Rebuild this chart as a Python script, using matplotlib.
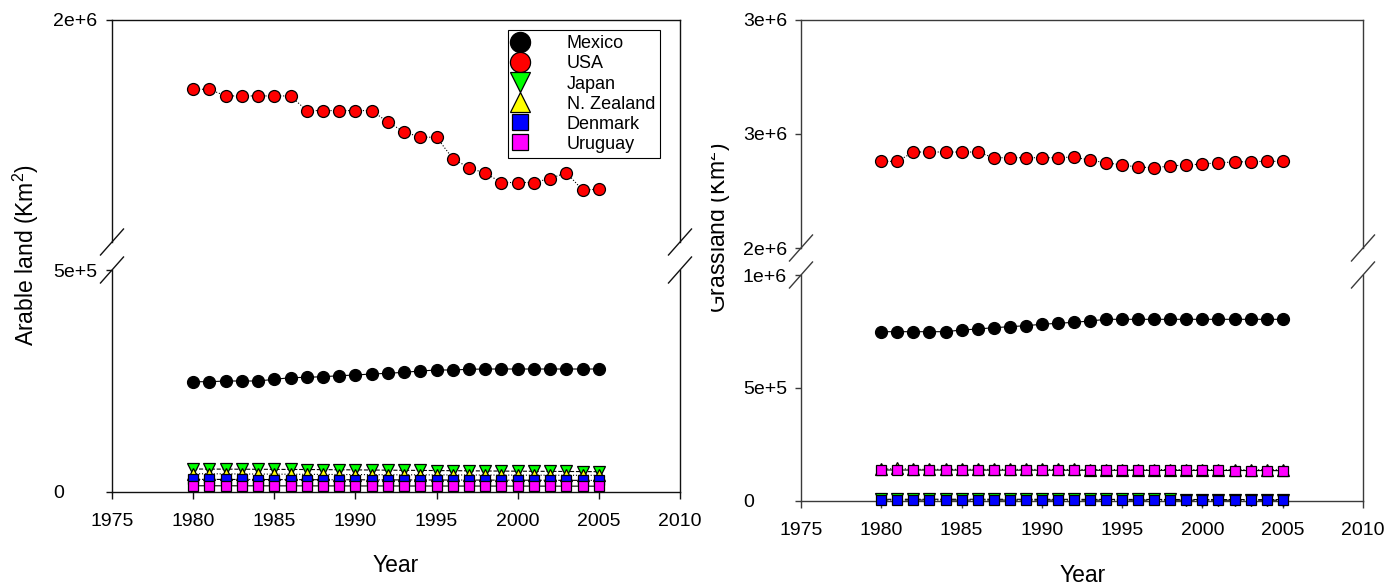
import matplotlib
matplotlib.use("Agg")
import matplotlib.pyplot as plt
from matplotlib.lines import Line2D
from matplotlib.transforms import Bbox, TransformedBbox

plt.rcParams["font.family"] = ["Liberation Sans", "DejaVu Sans"]
plt.rcParams["mathtext.fontset"] = "custom"
plt.rcParams["mathtext.rm"] = "Liberation Sans"
plt.rcParams["mathtext.it"] = "Liberation Sans:italic"
plt.rcParams["mathtext.default"] = "regular"

# ---------------- data ----------------
years = list(range(1980, 2006))
countries = ["Mexico", "USA", "Japan", "N. Zealand", "Denmark", "Uruguay"]

arable_mexico = [248400, 248400, 250000, 250000, 250000, 253800, 257400, 258300, 259700,
                 261900, 263500, 265800, 267300, 269600, 272500, 274800, 274800, 276400,
                 277000, 277000, 277000, 277000, 277000, 277000, 277000, 277000]
arable_usa = [1844000, 1844000, 1829000, 1829000, 1829000, 1829000, 1829000, 1796000,
              1796000, 1796000, 1796000, 1796000, 1770000, 1748000, 1736000, 1736000,
              1688000, 1667000, 1655000, 1634000, 1634000, 1634000, 1643000, 1656000,
              1617000, 1619000]
arable_japan = [51800, 51600, 51500, 51300, 51200, 51000, 50800, 50600, 50400, 50100,
                49800, 49500, 49200, 48900, 48600, 48300, 48000, 47700, 47400, 47100,
                46900, 46700, 46500, 46200, 46000, 45800]
arable_nzealand = [41000, 41000, 40800, 40600, 40400, 40200, 40000, 39800, 39600, 39400,
                   39200, 39000, 38800, 38700, 38600, 38500, 38400, 38300, 38200, 38100,
                   38000, 37900, 37800, 37700, 37600, 37500]
arable_denmark = [28400, 28400, 28300, 28200, 28100, 28000, 27900, 27800, 27700, 27600,
                  27500, 27400, 27300, 27200, 27100, 27000, 27000, 26900, 26800, 26700,
                  26600, 26500, 26400, 26300, 26200, 26100]
arable_uruguay = [14000, 14000, 14000, 13900, 13900, 13800, 13800, 13800, 13700, 13700,
                  13600, 13600, 13600, 13500, 13500, 13500, 13400, 13400, 13400, 13300,
                  13300, 13300, 13200, 13200, 13200, 13100]

grass_mexico = [748800, 748800, 748800, 748800, 748800, 756300, 760700, 766500, 770900,
                775400, 781600, 786000, 790400, 796200, 803700, 803700, 803700, 803700,
                803700, 803700, 803700, 803700, 803700, 803700, 803700, 803700]
grass_usa = [2380000, 2380000, 2421000, 2421000, 2421000, 2421000, 2421000, 2396000,
             2396000, 2396000, 2396000, 2396000, 2399000, 2385000, 2374000, 2364000,
             2355000, 2352000, 2360000, 2364000, 2368000, 2374000, 2377000, 2379000,
             2380000, 2380000]
grass_japan = [6200, 6300, 6400, 6500, 6500, 6500, 6400, 6400, 6300, 6300, 6200, 6100,
               6000, 5900, 5800, 5700, 5600, 5500, 5400, 5300, 5200, 5100, 5000, 5000,
               4900, 4900]
grass_nzealand = [139000, 143000, 139000, 139000, 139000, 139000, 139000, 138800, 138800,
                  138600, 138600, 138400, 138400, 138200, 138200, 138000, 138000, 137800,
                  137800, 137600, 137600, 137400, 137400, 137200, 137200, 137000]
grass_denmark = [3000, 3000, 3000, 2900, 2900, 2900, 2800, 2800, 2800, 2700, 2700, 2700,
                 2600, 2600, 2600, 2500, 2500, 2500, 2400, 2400, 2400, 2300, 2300, 2300,
                 2200, 2200]
grass_uruguay = [136000, 136000, 135800, 135800, 135600, 135600, 135400, 135400, 135200,
                 135200, 135000, 135000, 134800, 134800, 134600, 134600, 134400, 134400,
                 134200, 134200, 134000, 134000, 133800, 133600, 133400, 133200]

arable = [arable_mexico, arable_usa, arable_japan, arable_nzealand, arable_denmark, arable_uruguay]
grass = [grass_mexico, grass_usa, grass_japan, grass_nzealand, grass_denmark, grass_uruguay]

xticks = [1975, 1980, 1985, 1990, 1995, 2000, 2005, 2010]

# y ranges and tick labels for the two broken axes
arable_upper_lim = (1.5e6, 2.0e6)
arable_upper_ticks = [2.0e6]
arable_upper_labels = ["2e+6"]
arable_lower_lim = (0, 5.0e5)
arable_lower_ticks = [0, 5.0e5]
arable_lower_labels = ["0", "5e+5"]

grass_upper_lim = (2.0e6, 3.0e6)
grass_upper_ticks = [2.0e6, 2.5e6, 3.0e6]
grass_upper_labels = ["2e+6", "3e+6", "3e+6"]
grass_lower_lim = (0, 1.0e6)
grass_lower_ticks = [0, 5.0e5, 1.0e6]
grass_lower_labels = ["0", "5e+5", "1e+6"]

# ---------------- style ----------------
face_colors = ["#000000", "#ff0000", "#00ff00", "#ffff00", "#0000ff", "#ff00ff"]
markers = ["o", "o", "v", "^", "s", "s"]
marker_sizes = [8.6, 8.6, 8.8, 8.8, 6.8, 6.8]
legend_sizes = [14.5, 14.5, 14.5, 14.5, 11, 11]
line_styles = ["-", ":", "--", ":", "-.", "-"]

W, H, DPI = 1398, 588, 100
fig = plt.figure(figsize=(W / DPI, H / DPI), dpi=DPI)
fig.patch.set_facecolor("white")


def rect(x0, y0, x1, y1):
    return [x0 / W, 1 - y1 / H, (x1 - x0) / W, (y1 - y0) / H]


TICK_FS = 14
LABEL_FS = 16.5
TICKLEN = 4.5


def style_axes(ax, part, spine_color, label_left_px, spine_px):
    for s in ax.spines.values():
        s.set_color(spine_color)
        s.set_linewidth(1.0)
    if part == "upper":
        ax.spines["bottom"].set_visible(False)
        ax.tick_params(axis="x", bottom=False, labelbottom=False)
    else:
        ax.spines["top"].set_visible(False)
        ax.set_xticks(xticks)
        ax.tick_params(axis="x", direction="out", length=5, width=1.0,
                       color=spine_color, labelsize=TICK_FS, pad=10.0)
    ax.tick_params(axis="y", direction="out", length=TICKLEN, width=1.0,
                   color=spine_color, labelsize=TICK_FS,
                   pad=(spine_px - label_left_px) * 72 / DPI - TICKLEN)
    ax.tick_params(top=False, right=False)
    ax.set_xlim(1975, 2010)
    ax.patch.set_alpha(0)


def breaks(ax_top, ax_bot, color):
    dx, dy = 11.5, 13.0
    for ax, frac_y in ((ax_top, 0.0), (ax_bot, 1.0)):
        pos = ax.get_position()
        for frac_x in (0.0, 1.0):
            cx = (pos.x0 + frac_x * pos.width) * W
            cy = (pos.y0 + frac_y * pos.height) * H
            fig.add_artist(Line2D([(cx - dx) / W, (cx + dx) / W],
                                  [(cy - dy) / H, (cy + dy) / H],
                                  transform=fig.transFigure, color=color, lw=1.0))


def panel(box_upper, box_lower, series, lims, ticks, labels, spine_color, label_left_px):
    ax_u = fig.add_axes(rect(*box_upper))
    ax_l = fig.add_axes(rect(*box_lower))
    spine_px = box_upper[0]
    style_axes(ax_u, "upper", spine_color, label_left_px, spine_px)
    style_axes(ax_l, "lower", spine_color, label_left_px, spine_px)
    ax_u.set_ylim(*lims[0])
    ax_l.set_ylim(*lims[1])
    ax_u.set_yticks(ticks[0])
    ax_u.set_yticklabels(labels[0])
    ax_l.set_yticks(ticks[1])
    ax_l.set_yticklabels(labels[1])
    for ax in (ax_u, ax_l):
        for lab in ax.get_yticklabels():
            lab.set_horizontalalignment("left")
    for i, vals in enumerate(series):
        target = ax_u if max(vals) > lims[1][1] else ax_l
        target.plot(years, vals, linestyle=line_styles[i], color="black", lw=0.8,
                    marker=markers[i], markersize=marker_sizes[i],
                    markerfacecolor=face_colors[i], markeredgecolor="black",
                    markeredgewidth=0.9, clip_on=False, zorder=3 + i)
    breaks(ax_u, ax_l, spine_color)
    return ax_u, ax_l


# left panel: arable land
axA_u, axA_l = panel((112, 20, 680, 242), (112, 270, 680, 492), arable,
                     (arable_upper_lim, arable_lower_lim),
                     (arable_upper_ticks, arable_lower_ticks),
                     (arable_upper_labels, arable_lower_labels), "#111111", 53)

# right panel: grassland
axG_u, axG_l = panel((801, 20, 1363, 248), (801, 275, 1363, 500.7), grass,
                     (grass_upper_lim, grass_lower_lim),
                     (grass_upper_ticks, grass_lower_ticks),
                     (grass_upper_labels, grass_lower_labels), "#3a3a3a", 743)

# legend
handles = [Line2D([], [], linestyle="none", marker=markers[i], markersize=legend_sizes[i],
                  markerfacecolor=face_colors[i], markeredgecolor="black",
                  markeredgewidth=0.9) for i in range(len(countries))]
leg = axA_u.legend(handles, countries, loc="upper left",
                   bbox_to_anchor=((508 - 112) / 568, (242 - 30) / 222),
                   fontsize=13, frameon=True, fancybox=False, shadow=False,
                   framealpha=1, edgecolor="black", borderpad=0.3, borderaxespad=0,
                   labelspacing=0.17, handlelength=0.75, handletextpad=2.2)
leg.get_frame().set_linewidth(0.8)
leg.set_zorder(20)

# axis titles
fig.text(396 / W, 1 - 566 / H, "Year", fontsize=LABEL_FS, ha="center", va="center")
fig.text(1083 / W, 1 - 576 / H, "Year", fontsize=LABEL_FS, ha="center", va="center")

fig.text(34 / W, 1 - 255 / H, "Arable land (Km$^{2}$)", fontsize=LABEL_FS,
         rotation=90, rotation_mode="anchor", ha="center", va="baseline")
g = fig.text(726 / W, 1 - 228 / H, "Grassland (Km$^{2}$)", fontsize=LABEL_FS,
             rotation=90, rotation_mode="anchor", ha="center", va="baseline")
g.set_clip_box(TransformedBbox(Bbox.from_extents(711 / W, 0, 1, 1), fig.transFigure))
g.set_clip_on(True)

fig.savefig("out.png", dpi=DPI, facecolor="white")
